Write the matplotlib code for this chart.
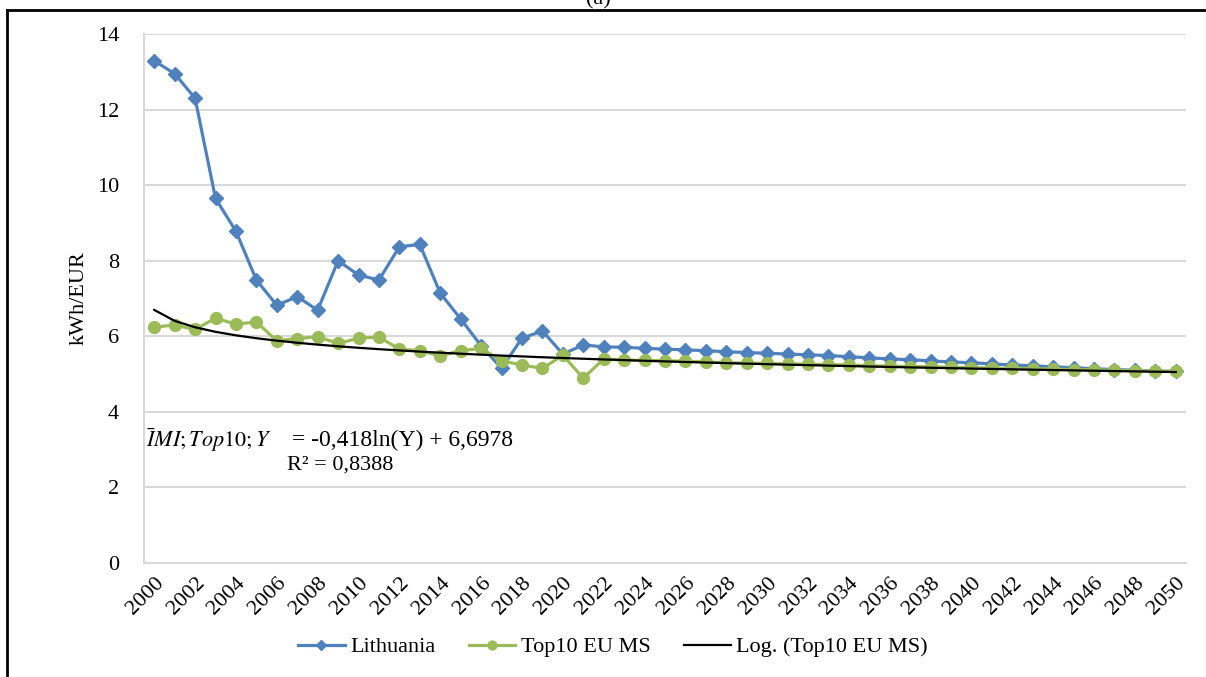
import numpy as np
import matplotlib.pyplot as plt

plt.rcParams['font.family'] = ['Liberation Serif', 'DejaVu Serif']
plt.rcParams['mathtext.fontset'] = 'stix'

years = list(range(2000, 2051))

lithuania = [13.29, 12.95, 12.30, 9.65, 8.78, 7.49, 6.82, 7.05, 6.69, 8.00,
             7.62, 7.49, 8.37, 8.43, 7.14, 6.46, 5.75, 5.15, 5.95, 6.14,
             5.53, 5.77, 5.72, 5.71, 5.68, 5.66, 5.64, 5.62, 5.59, 5.57,
             5.55, 5.53, 5.51, 5.49, 5.46, 5.43, 5.40, 5.38, 5.35, 5.32,
             5.30, 5.27, 5.24, 5.22, 5.19, 5.17, 5.14, 5.12, 5.10, 5.08,
             5.07]

top10 = [6.24, 6.30, 6.18, 6.48, 6.32, 6.38, 5.88, 5.94, 5.99, 5.81,
         5.95, 5.98, 5.66, 5.62, 5.48, 5.62, 5.68, 5.35, 5.24, 5.15,
         5.50, 4.89, 5.40, 5.37, 5.36, 5.35, 5.34, 5.32, 5.30, 5.29,
         5.28, 5.27, 5.26, 5.25, 5.24, 5.22, 5.21, 5.20, 5.19, 5.18,
         5.17, 5.16, 5.15, 5.14, 5.13, 5.12, 5.11, 5.10, 5.09, 5.08,
         5.07]

# log trend coefficients for Top10
trend_a = -0.418
trend_b = 6.6978
r2 = 0.8388

blue = '#4F81BD'
green = '#9BBB59'
fs = 16

fig = plt.figure(figsize=(12.06, 6.77), dpi=100)
ax = fig.add_axes([144 / 1206, 114 / 677, 1042 / 1206, 529 / 677])

x = np.array(years)
ax.plot(x, lithuania, color=blue, lw=2.3, marker='D', ms=7,
        label='Lithuania', zorder=3)
ax.plot(x, top10, color=green, lw=2.3, marker='o', ms=8.5,
        label='Top10 EU MS', zorder=4)
idx = np.arange(1, len(years) + 1)
ax.plot(x, trend_a * np.log(idx) + trend_b, color='black', lw=1.6,
        label='Log. (Top10 EU MS)', zorder=5)

ax.set_xlim(1999.5, 2050.5)
ax.set_ylim(0, 14)
ax.set_yticks(range(0, 15, 2))
ax.set_xticks(years[::2])
ax.set_xticklabels([str(y) for y in years[::2]], rotation=45,
                   ha='right', va='top', rotation_mode='anchor')
ax.tick_params(axis='x', length=0, pad=8, labelsize=fs)
ax.tick_params(axis='y', length=0, pad=18, labelsize=fs)
ax.grid(axis='y', color='#D9D9D9', lw=1.5)
ax.set_axisbelow(True)
for side in ['top', 'right']:
    ax.spines[side].set_visible(False)
for side in ['left', 'bottom']:
    ax.spines[side].set_color('#D9D9D9')
    ax.spines[side].set_linewidth(1.5)
ax.set_ylabel('kWh/EUR', fontsize=fs, labelpad=6)

# trendline equation
fig.text(146 / 1206, 1 - 440 / 677, r'$\bar{I}MI;Top10;Y$',
         fontsize=fs, va='center', ha='left')
fig.text(292 / 1206, 1 - 440 / 677,
         '= {:.3f}ln(Y) + {:.4f}'.format(trend_a, trend_b).replace('.', ','),
         fontsize=17, va='center', ha='left')
fig.text(340 / 1206, 1 - 465 / 677,
         'R² = {:.4f}'.format(r2).replace('.', ','), fontsize=fs,
         ha='center', va='center')

ax.legend(loc='center', bbox_to_anchor=(613 / 1206, 1 - 647 / 677),
          bbox_transform=fig.transFigure, ncol=3, frameon=False,
          fontsize=fs, handlelength=2.1, handletextpad=0.25,
          columnspacing=1.5, markerscale=0.75)

# outer frame and panel label
fig.add_artist(plt.Line2D([7 / 1206, 7 / 1206], [0, 1 - 10 / 677],
                          color='black', lw=2, transform=fig.transFigure))
fig.add_artist(plt.Line2D([7 / 1206, 1], [1 - 10 / 677, 1 - 10 / 677],
                          color='black', lw=2, transform=fig.transFigure))
fig.text(598 / 1206, 1.0, '(a)', fontsize=fs, ha='center', va='center')

fig.savefig('out.png', dpi=100)
